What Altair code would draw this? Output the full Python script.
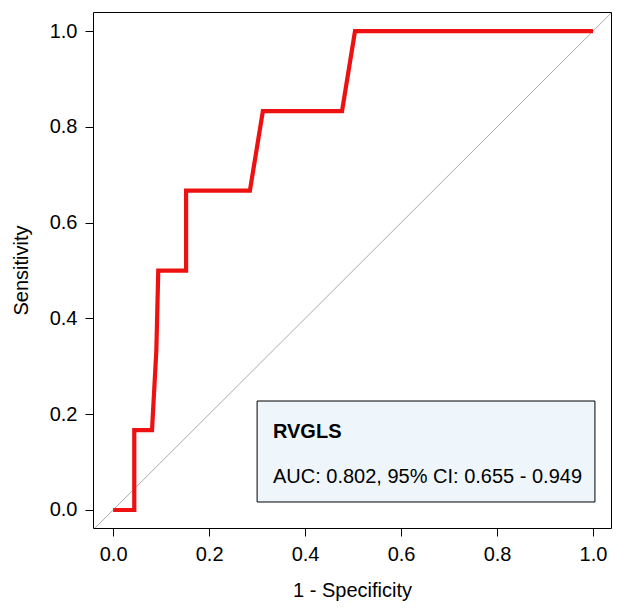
import altair as alt
import pandas as pd

fpr = [0.0, 0.044, 0.044, 0.081, 0.090, 0.094, 0.152, 0.152, 0.285, 0.312, 0.477, 0.504, 1.0]
tpr = [0.0, 0.0, 0.167, 0.167, 0.333, 0.5, 0.5, 0.667, 0.667, 0.833, 0.833, 1.0, 1.0]
diag_x = [-0.1, 1.1]
diag_y = [-0.1, 1.1]
legend_box = {"x": [0.30], "x2": [1.004], "y": [0.2276], "y2": [0.0167]}
legend_title = "RVGLS"
legend_text = "AUC: 0.802, 95% CI: 0.655 - 0.949"
ticks = [0.0, 0.2, 0.4, 0.6, 0.8, 1.0]

FONT = "Liberation Sans"
FS = 20

roc = pd.DataFrame({"fpr": fpr, "tpr": tpr, "order": list(range(len(fpr)))})
diag = pd.DataFrame({"fpr": diag_x, "tpr": diag_y})
box = pd.DataFrame(legend_box)
title_df = pd.DataFrame({"x": [0.333], "y": [0.163], "text": [legend_title]})
text_df = pd.DataFrame({"x": [0.333], "y": [0.068], "text": [legend_text]})

xs = alt.Scale(domain=[-0.042, 1.0375], nice=False, zero=False)
ys = alt.Scale(domain=[-0.0376, 1.04], nice=False, zero=False)

xaxis = alt.Axis(title="1 - Specificity", values=ticks, format=".1f", grid=False,
                 domain=False, tickSize=8, tickColor="black", labelFontSize=FS,
                 labelFont=FONT, labelColor="black", labelPadding=8,
                 titleFont=FONT, titleFontSize=FS, titleFontWeight="normal",
                 titleColor="black", titlePadding=16)
yaxis = alt.Axis(title="Sensitivity", values=ticks, format=".1f", grid=False,
                 domain=False, tickSize=8, tickColor="black", labelFontSize=FS,
                 labelFont=FONT, labelColor="black", labelPadding=8,
                 titleFont=FONT, titleFontSize=FS, titleFontWeight="normal",
                 titleColor="black", titlePadding=18)

diag_layer = alt.Chart(diag).mark_line(color="#aaaaaa", strokeWidth=1, clip=True).encode(
    x=alt.X("fpr:Q", scale=xs, axis=xaxis),
    y=alt.Y("tpr:Q", scale=ys, axis=yaxis),
)

roc_layer = alt.Chart(roc).mark_line(color="#EE1111", strokeWidth=4.2, strokeJoin="miter").encode(
    x=alt.X("fpr:Q", scale=xs),
    y=alt.Y("tpr:Q", scale=ys),
    order="order:Q",
)

box_layer = alt.Chart(box).mark_rect(fill="#EEF5FB", stroke="black", strokeWidth=1).encode(
    x=alt.X("x:Q", scale=xs), x2="x2:Q",
    y=alt.Y("y:Q", scale=ys), y2="y2:Q",
)

title_layer = alt.Chart(title_df).mark_text(align="left", baseline="middle", font=FONT,
                                            fontSize=FS, fontWeight="bold", color="black").encode(
    x=alt.X("x:Q", scale=xs), y=alt.Y("y:Q", scale=ys), text="text:N",
)
text_layer = alt.Chart(text_df).mark_text(align="left", baseline="middle", font=FONT,
                                          fontSize=FS, color="black").encode(
    x=alt.X("x:Q", scale=xs), y=alt.Y("y:Q", scale=ys), text="text:N",
)

chart = alt.layer(diag_layer, roc_layer, box_layer, title_layer, text_layer).properties(
    width=518, height=516,
    background="white",
    autosize=alt.AutoSizeParams(type="none"),
    padding={"left": 85, "top": 4, "right": 5, "bottom": 80},
).configure_view(stroke="black", strokeWidth=1, fill="white")

chart.save("out.html", embed_options={"renderer": "svg", "actions": False})
